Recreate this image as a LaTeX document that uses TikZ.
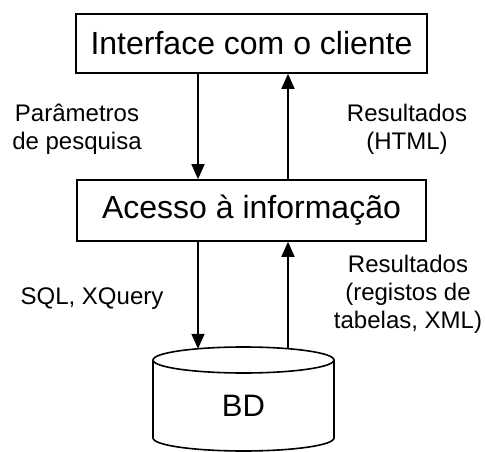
\documentclass[tikz,border=0pt]{standalone}
\usepackage{fontspec}
\setmainfont{Liberation Sans}
\usetikzlibrary{arrows.meta}
\begin{document}
\begin{tikzpicture}[x=1pt,y=1pt,
  box/.style={draw, line width=1.6pt, inner sep=0pt, font=\fontsize{32}{38}\selectfont},
  lbl/.style={align=center, inner sep=0pt, font=\fontsize{24}{28}\selectfont},
  arr/.style={line width=1.6pt, -{Triangle[length=15pt,width=13pt]}},
  cyl/.style={line width=1.6pt}]
\useasboundingbox (0,0) rectangle (485,451);
\node[box, minimum width=351pt, minimum height=59pt] (ui) at (251.5,407.5) {Interface com o cliente};
\node[box, minimum width=349pt, minimum height=61pt] (ai) at (251.5,240.5) {Acesso à informação};
% database cylinder
\draw[cyl] (153,91) -- (153,13) arc[start angle=180,end angle=360,x radius=90.5,y radius=13] -- (334,91);
\draw[cyl] (243.5,91) ellipse [x radius=90.5, y radius=13];
\node[font=\fontsize{31}{36}\selectfont, inner sep=0pt] (bd) at (243.5,45) {BD};
\coordinate (bdl) at (198,102.2);
\coordinate (bdr) at (288,102.2);
% connectors
\draw[arr] (ui.south -| bdl) -- (ai.north -| bdl);
\draw[arr] (ai.north -| bdr) -- (ui.south -| bdr);
\draw[arr] (ai.south -| bdl) -- (bdl);
\draw[arr] (bdr) -- (ai.south -| bdr);
% labels
\node[lbl] (p) at (77,322) {Parâmetros\\de pesquisa};
\node[lbl] (r1) at (407,322) {Resultados\\(HTML)};
\node[lbl] (s) at (92,152) {SQL, XQuery};
\node[lbl] (r2) at (408,157) {Resultados\\(registos de\\tabelas, XML)};
\end{tikzpicture}
\end{document}
